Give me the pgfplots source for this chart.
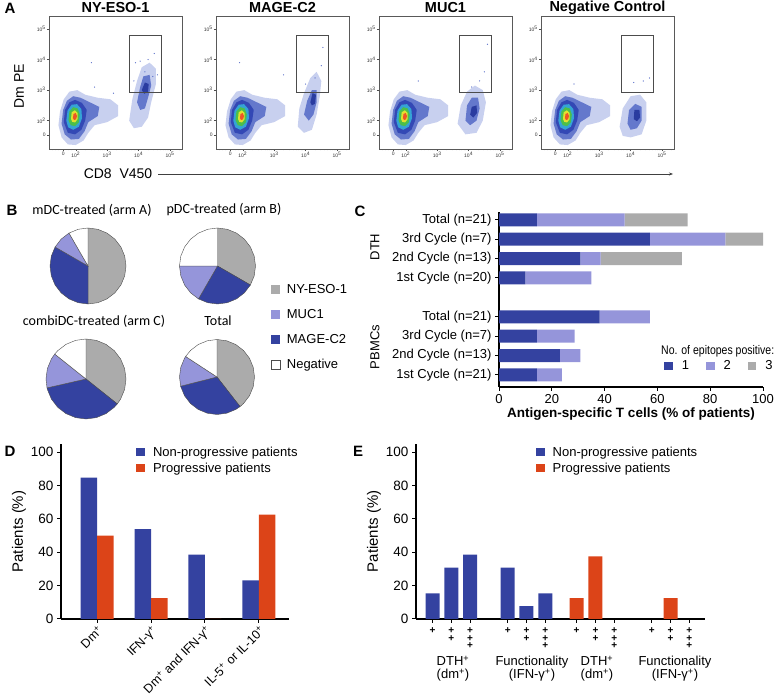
\documentclass[border=0pt]{standalone}
\usepackage{pgfplots}
\pgfplotsset{compat=1.18}
\usepackage{fontspec}
\setmainfont{Liberation Sans}
\newfontfamily\carlito{Carlito}
\usetikzlibrary{arrows.meta}
\definecolor{dblue}{HTML}{3442A0}
\definecolor{lblue}{HTML}{9595DA}
\definecolor{pgray}{HTML}{ABABAB}
\definecolor{ored}{HTML}{DC4418}
\definecolor{fhalo}{HTML}{C8D0EF}
\definecolor{fdense}{HTML}{6478CC}
\definecolor{fdark}{HTML}{3348B5}
\definecolor{fcore}{HTML}{2A3CA0}
\definecolor{fcyan}{HTML}{35A3D5}
\definecolor{fgreen}{HTML}{4CBF4A}
\definecolor{fyellow}{HTML}{E2E030}
\definecolor{fred}{HTML}{EE5526}
\newcommand{\fs}[1]{\fontsize{#1}{#1}\selectfont}
\newcommand{\sps}{\textsuperscript{+}}
\pgfplotsset{
 flow/.style={scale only axis, width=133pt, height=133pt, anchor=south west,
  xmin=1.15,xmax=5.38,ymin=1.07,ymax=5.43,
  axis line style={black!65, line width=0.7pt},
  tick align=outside, major tick length=2.2pt, minor tick length=1.4pt,
  tick style={black!70, line width=0.4pt},
  xtick={1.6,2,3,4,5}, ytick={1.52,2,3,4,5},
  xticklabels={0,10\textsuperscript{2},10\textsuperscript{3},10\textsuperscript{4},10\textsuperscript{5}},
  yticklabels={0,10\textsuperscript{2},10\textsuperscript{3},10\textsuperscript{4},10\textsuperscript{5}},
  minor xtick={1.25,1.35,1.45,1.75,1.85,2.301,2.477,2.602,2.699,2.778,2.845,2.903,2.954,3.301,3.477,3.602,3.699,3.778,3.845,3.903,3.954,4.301,4.477,4.602,4.699,4.778,4.845,4.903,4.954,5.301},
  xtick pos=bottom, ytick pos=left,
  ticklabel style={font=\fs{5}, text=black!80, inner sep=1pt},
  axis on top},
 pie/.style={hide axis, scale only axis, anchor=center, xmin=-1,xmax=1,ymin=-1,ymax=1, clip=false},
 sector/.style={data cs=polar, draw=black!70, line width=0.4pt, forget plot},
 sqleg/.style={legend image code/.code={\path[##1] (0pt,-4.3pt) rectangle (8.6pt,4.3pt);}},
}
\newcommand{\mainblob}{%
\addplot[fill=fhalo,draw=none] coordinates {(1.45,1.85) (1.5,2.3) (1.62,2.7) (1.8,2.95) (2.05,3.0) (2.3,2.85) (2.7,2.75) (3.1,2.7) (3.35,2.5) (3.35,2.15) (3.0,1.95) (2.6,1.85) (2.4,1.6) (2.25,1.35) (2.0,1.2) (1.75,1.22) (1.55,1.45)};
\addplot[fill=fdense,draw=none] coordinates {(1.55,1.9) (1.6,2.35) (1.72,2.65) (1.92,2.8) (2.15,2.75) (2.45,2.6) (2.75,2.45) (2.7,2.15) (2.4,1.95) (2.28,1.65) (2.1,1.4) (1.85,1.38) (1.65,1.55)};
\addplot[fill=fdark,draw=none] coordinates {(1.62,1.95) (1.66,2.35) (1.8,2.6) (1.98,2.68) (2.2,2.58) (2.35,2.35) (2.3,2.0) (2.18,1.7) (1.98,1.55) (1.75,1.6)};
\addplot[fill=fcyan,draw=none] coordinates {(1.7,2.0) (1.74,2.33) (1.87,2.52) (2.04,2.54) (2.18,2.38) (2.2,2.08) (2.1,1.8) (1.92,1.7) (1.76,1.78)};
\addplot[fill=fgreen,draw=none] coordinates {(1.77,2.02) (1.8,2.3) (1.92,2.44) (2.06,2.4) (2.13,2.2) (2.1,1.95) (1.98,1.82) (1.84,1.85)};
\addplot[fill=fyellow,draw=none] coordinates {(1.85,2.05) (1.87,2.27) (1.97,2.34) (2.06,2.25) (2.06,2.05) (1.98,1.94) (1.89,1.96)};
\addplot[fill=fred,draw=none] coordinates {(1.91,2.08) (1.93,2.22) (2.0,2.25) (2.04,2.15) (2.01,2.04) (1.95,2.02)};
}
\newcommand{\gate}{\addplot[draw=black!70, line width=0.6pt] coordinates {(3.71,2.92) (4.72,2.92) (4.72,4.81) (3.71,4.81) (3.71,2.92)};}
\begin{document}
\begin{tikzpicture}[x=1pt,y=1pt]
\path[use as bounding box] (0,0) rectangle (778,695);
% ---------------- Panel A
\node[font=\bfseries\fs{15}] at (10,687) {A};
\node[font=\bfseries\fs{14.5}] at (115.5,687) {NY-ESO-1};
\node[font=\bfseries\fs{14.5}] at (282.5,687) {MAGE-C2};
\node[font=\bfseries\fs{14.5}] at (445.5,687) {MUC1};
\node[font=\bfseries\fs{14.5}] at (607.5,687) {Negative Control};
\node[font=\fs{14}, rotate=90] at (19,609) {Dm PE};
\node[font=\fs{14}] at (118,521) {CD8\ \ V450};
\draw[black!75, line width=0.6pt, -{Stealth[length=4pt,width=3pt]}] (158,521) -- (673,521);

\begin{axis}[flow, at={(49pt,546pt)}]
\mainblob
\addplot[fill=fhalo,draw=none] coordinates {(3.7,2.0) (3.8,2.7) (3.95,3.3) (4.1,3.75) (4.35,3.9) (4.55,3.7) (4.55,3.2) (4.4,2.6) (4.3,2.1) (4.1,1.8) (3.85,1.75)};
\addplot[fill=fdense,draw=none] coordinates {(3.95,2.6) (4.05,3.1) (4.15,3.45) (4.35,3.5) (4.4,3.15) (4.3,2.75) (4.2,2.4) (4.05,2.35)};
\addplot[fill=fcore,draw=none] coordinates {(4.1,3.0) (4.2,3.25) (4.32,3.2) (4.3,2.95) (4.18,2.88)};
\addplot[only marks, mark=*, mark size=0.35pt, fdense] coordinates {(3.9,3.9) (4.2,3.6) (4.5,4.2) (4.3,4.0) (3.85,3.3) (4.6,3.5) (4.05,3.95) (4.45,3.45) (2.5,3.9) (2.6,3.1) (3.2,2.9)};
\gate
\end{axis}

\begin{axis}[flow, at={(216pt,546pt)}]
\mainblob
\addplot[fill=fhalo,draw=none] coordinates {(3.75,1.8) (3.8,2.4) (3.95,2.9) (4.15,3.4) (4.35,3.6) (4.5,3.3) (4.45,2.8) (4.35,2.2) (4.2,1.7) (3.95,1.6)};
\addplot[fill=fdense,draw=none] coordinates {(3.95,2.2) (4.05,2.65) (4.2,3.0) (4.35,3.0) (4.35,2.6) (4.25,2.2) (4.1,2.0)};
\addplot[fill=fcore,draw=none] coordinates {(4.15,2.6) (4.22,2.9) (4.33,2.85) (4.3,2.55) (4.2,2.5)};
\addplot[only marks, mark=*, mark size=0.35pt, fdense] coordinates {(4.5,3.8) (4.3,3.4) (4.55,4.4) (4.0,3.2) (3.3,3.5) (1.9,3.9)};
\gate
\end{axis}

\begin{axis}[flow, at={(379pt,546pt)}]
\mainblob
\addplot[fill=fhalo,draw=none] coordinates {(3.65,1.9) (3.75,2.5) (3.95,2.95) (4.2,3.15) (4.45,3.0) (4.55,2.6) (4.45,2.0) (4.25,1.6) (3.9,1.55)};
\addplot[fill=fdense,draw=none] coordinates {(3.9,2.0) (3.95,2.5) (4.1,2.75) (4.3,2.75) (4.35,2.4) (4.25,2.0) (4.05,1.85)};
\addplot[fill=fcore,draw=none] coordinates {(4.05,2.2) (4.1,2.45) (4.25,2.5) (4.27,2.25) (4.15,2.1)};
\addplot[only marks, mark=*, mark size=0.35pt, fdense] coordinates {(4.5,3.6) (4.6,4.5) (4.35,3.3) (4.1,3.1) (2.4,3.3)};
\gate
\end{axis}

\begin{axis}[flow, at={(541pt,546pt)}]
\mainblob
\addplot[fill=fhalo,draw=none] coordinates {(3.65,1.8) (3.75,2.4) (4.0,2.8) (4.3,2.85) (4.5,2.6) (4.5,2.0) (4.35,1.55) (4.0,1.45) (3.75,1.5)};
\addplot[fill=fdense,draw=none] coordinates {(3.9,1.9) (3.95,2.35) (4.15,2.55) (4.35,2.45) (4.35,2.0) (4.2,1.75) (4.0,1.7)};
\addplot[fill=fcore,draw=none] coordinates {(4.1,2.05) (4.12,2.35) (4.28,2.35) (4.3,2.1) (4.2,1.98)};
\addplot[only marks, mark=*, mark size=0.35pt, fdense] coordinates {(4.4,3.3) (4.1,3.25) (4.6,3.4) (2.2,3.2)};
\gate
\end{axis}

% ---------------- Panel B
\node[font=\bfseries\fs{15}] at (12,485) {B};
\node[font=\carlito\fs{14}] at (92,485) {mDC-treated (arm A)};
\node[font=\carlito\fs{14}] at (224,485) {pDC-treated (arm B)};
\node[font=\carlito\fs{14}] at (94,374) {combiDC-treated (arm C)};
\node[font=\carlito\fs{14}] at (218,374) {Total};

\begin{axis}[pie, at={(88pt,429pt)}, width=76pt, height=76pt]
\addplot[sector, fill=pgray] coordinates {(0,0) (90,1) (75,1) (60,1) (45,1) (30,1) (15,1) (0,1) (-15,1) (-30,1) (-45,1) (-60,1) (-75,1) (-90,1)} -- cycle;
\addplot[sector, fill=dblue] coordinates {(0,0) (-90,1) (-105,1) (-120,1) (-135,1) (-150,1) (-165,1) (-180,1) (-195,1) (-210,1)} -- cycle;
\addplot[sector, fill=lblue] coordinates {(0,0) (-210,1) (-225,1) (-240,1)} -- cycle;
\addplot[sector, fill=white] coordinates {(0,0) (-240,1) (-255,1) (-270,1)} -- cycle;
\end{axis}

\begin{axis}[pie, at={(217.5pt,429pt)}, width=76pt, height=76pt, sqleg,
  legend style={at={(1.2,0.29)}, anchor=north west, draw=none, fill=none, font=\fs{13}, row sep=10.5pt, inner sep=0pt,
    /tikz/every odd column/.append style={column sep=5pt}},
  legend cell align=left]
\addplot[sector, fill=pgray] coordinates {(0,0) (90,1) (75,1) (60,1) (45,1) (30,1) (15,1) (0,1) (-15,1) (-30,1)} -- cycle;
\addplot[sector, fill=dblue] coordinates {(0,0) (-30,1) (-45,1) (-60,1) (-75,1) (-90,1) (-105,1) (-120,1)} -- cycle;
\addplot[sector, fill=lblue] coordinates {(0,0) (-120,1) (-135,1) (-150,1) (-165,1) (-180,1)} -- cycle;
\addplot[sector, fill=white] coordinates {(0,0) (-180,1) (-195,1) (-210,1) (-225,1) (-240,1) (-255,1) (-270,1)} -- cycle;
\addlegendimage{fill=pgray, draw=none}\addlegendentry{NY-ESO-1}
\addlegendimage{fill=lblue, draw=none}\addlegendentry{MUC1}
\addlegendimage{fill=dblue, draw=none}\addlegendentry{MAGE-C2}
\addlegendimage{fill=white, draw=black!70, line width=0.4pt}\addlegendentry{Negative}
\end{axis}

\begin{axis}[pie, at={(86pt,316pt)}, width=80pt, height=80pt]
\addplot[sector, fill=pgray] coordinates {(0,0) (90,1) (75,1) (60,1) (45,1) (30,1) (15,1) (0,1) (-15,1) (-30,1) (-38.57,1)} -- cycle;
\addplot[sector, fill=dblue] coordinates {(0,0) (-38.57,1) (-45,1) (-60,1) (-75,1) (-90,1) (-105,1) (-120,1) (-135,1) (-150,1) (-165,1) (-167.14,1)} -- cycle;
\addplot[sector, fill=lblue] coordinates {(0,0) (-167.14,1) (-180,1) (-195,1) (-210,1) (-218.57,1)} -- cycle;
\addplot[sector, fill=white] coordinates {(0,0) (-218.57,1) (-225,1) (-240,1) (-255,1) (-270,1)} -- cycle;
\end{axis}

\begin{axis}[pie, at={(217pt,318pt)}, width=75pt, height=75pt]
\addplot[sector, fill=pgray] coordinates {(0,0) (90,1) (75,1) (60,1) (45,1) (30,1) (15,1) (0,1) (-15,1) (-30,1) (-45,1) (-52.1,1)} -- cycle;
\addplot[sector, fill=dblue] coordinates {(0,0) (-52.1,1) (-60,1) (-75,1) (-90,1) (-105,1) (-120,1) (-135,1) (-150,1) (-165,1) (-165.8,1)} -- cycle;
\addplot[sector, fill=lblue] coordinates {(0,0) (-165.8,1) (-180,1) (-195,1) (-210,1) (-213.2,1)} -- cycle;
\addplot[sector, fill=white] coordinates {(0,0) (-213.2,1) (-225,1) (-240,1) (-255,1) (-270,1)} -- cycle;
\end{axis}

% ---------------- Panel C
\node[font=\bfseries\fs{15}] at (360,484) {C};
\node[font=\fs{13}, rotate=90] at (375,448) {DTH};
\node[font=\fs{13}, rotate=90] at (375,348) {PBMCs};
\node[font=\fs{12.5}, anchor=west, inner sep=0pt, xscale=0.84] at (661,344) {No. of epitopes positive:};
\begin{axis}[at={(499pt,308pt)}, anchor=south west, scale only axis, width=264pt, height=175pt,
  xbar stacked, bar width=13pt,
  xmin=0, xmax=100, ymin=-0.62, ymax=8.4,
  axis x line*=bottom, axis y line*=left,
  axis line style={line width=1.1pt},
  xtick={0,20,40,60,80,100}, ytick={0,1,2,3,5,6,7,8},
  yticklabels={1st Cycle (n=21),2nd Cycle (n=13),3rd Cycle (n=7),Total (n=21),1st Cycle (n=20),2nd Cycle (n=13),3rd Cycle (n=7),Total (n=21)},
  tick align=outside, major tick length=4pt, tick style={line width=1pt, black},
  ticklabel style={font=\fs{13}},
  /pgf/number format/assume math mode=true,
  xlabel={Antigen-specific T cells (\% of patients)}, xlabel style={font=\bfseries\fs{13.5}, yshift=3pt},
  sqleg, legend columns=3,
  legend style={at={(0.625,0.12)}, anchor=west, draw=none, fill=none, font=\fs{13}, inner sep=0pt,
    /tikz/every odd column/.append style={column sep=7pt},
    /tikz/every even column/.append style={column sep=15pt}},
  ]
\addplot[fill=dblue, draw=none] coordinates {(14.3,8) (57.1,7) (30.8,6) (10,5) (38.1,3) (14.3,2) (23.1,1) (14.3,0)};
\addplot[fill=lblue, draw=none] coordinates {(33.3,8) (28.6,7) (7.7,6) (25,5) (19.0,3) (14.3,2) (7.7,1) (9.5,0)};
\addplot[fill=pgray, draw=none] coordinates {(23.8,8) (14.3,7) (30.8,6) (0,5) (0,3) (0,2) (0,1) (0,0)};
\legend{1,2,3}
\end{axis}

% ---------------- Panel D
\node[font=\bfseries\fs{15}] at (10,244) {D};
\begin{axis}[at={(61pt,76pt)}, anchor=south west, scale only axis, width=228pt, height=175pt,
  ybar=0pt, bar width=16.5pt,
  xmin=-0.667, xmax=3.556, ymin=0, ymax=104.8,
  axis x line*=bottom, axis y line*=left,
  axis line style={line width=1.1pt},
  tick align=outside, major tick length=4pt, tick style={line width=1pt, black},
  xtick={0,1,2,3},
  xticklabels={Dm\sps, IFN-γ\sps, Dm\sps{} and IFN-γ\sps, IL-5\sps{} or IL-10\sps},
  xticklabel style={rotate=45, anchor=north east, font=\fs{12.5}, inner sep=1pt},
  ytick={0,20,40,60,80,100},
  yticklabel style={font=\fs{13.5}},
  /pgf/number format/assume math mode=true,
  ylabel={Patients (\%)}, ylabel style={font=\fs{15}, yshift=-2pt},
  sqleg,
  legend style={at={(0.33,0.997)}, anchor=north west, draw=none, fill=none, font=\fs{13}, inner sep=0pt, row sep=1pt,
    /tikz/every odd column/.append style={column sep=6pt}},
  legend cell align=left]
\addplot[fill=dblue, draw=none] coordinates {(0,84.6) (1,53.8) (2,38.5) (3,23.1)};
\addplot[fill=ored, draw=none] coordinates {(0,50) (1,12.5) (2,0) (3,62.5)};
\legend{Non-progressive patients, Progressive patients}
\end{axis}

% ---------------- Panel E
\node[font=\bfseries\fs{15}] at (358,244) {E};
\begin{axis}[at={(416pt,76pt)}, anchor=south west, scale only axis, width=289pt, height=175pt,
  ybar, bar width=14pt,
  xmin=-0.88, xmax=14.5, ymin=0, ymax=104.8,
  axis x line*=bottom, axis y line*=left,
  axis line style={line width=1.1pt},
  tick align=outside, major tick length=4pt, tick style={line width=1pt, black},
  xtick={0,1,2,4,5,6,7.67,8.67,9.67,11.67,12.67,13.67},
  xticklabels={+,+\\+,+\\+\\+,+,+\\+,+\\+\\+,+,+\\+,+\\+\\+,+,+\\+,+\\+\\+},
  xticklabel style={align=center, font=\bfseries\fontsize{10}{7.7}\selectfont, anchor=north, yshift=-1pt},
  ytick={0,20,40,60,80,100},
  yticklabel style={font=\fs{13.5}},
  /pgf/number format/assume math mode=true,
  ylabel={Patients (\%)}, ylabel style={font=\fs{15}, yshift=-2pt},
  sqleg,
  legend style={at={(0.415,0.997)}, anchor=north west, draw=none, fill=none, font=\fs{13}, inner sep=0pt, row sep=1pt,
    /tikz/every odd column/.append style={column sep=6pt}},
  legend cell align=left]
\addplot[fill=dblue, draw=none, bar shift=0pt] coordinates {(0,15.4) (1,30.8) (2,38.5) (4,30.8) (5,7.7) (6,15.4)};
\addplot[fill=ored, draw=none, bar shift=0pt] coordinates {(7.67,12.5) (8.67,37.5) (12.67,12.5)};
\legend{Non-progressive patients, Progressive patients}
\end{axis}
\node[font=\fs{13}, align=center] at (453,26) {DTH\sps\\(dm\sps)};
\node[font=\fs{13}, align=center] at (532,26) {Functionality\\(IFN-γ\sps)};
\node[font=\fs{13}, align=center] at (597,26) {DTH\sps\\(dm\sps)};
\node[font=\fs{13}, align=center] at (675,26) {Functionality\\(IFN-γ\sps)};
\end{tikzpicture}
\end{document}
